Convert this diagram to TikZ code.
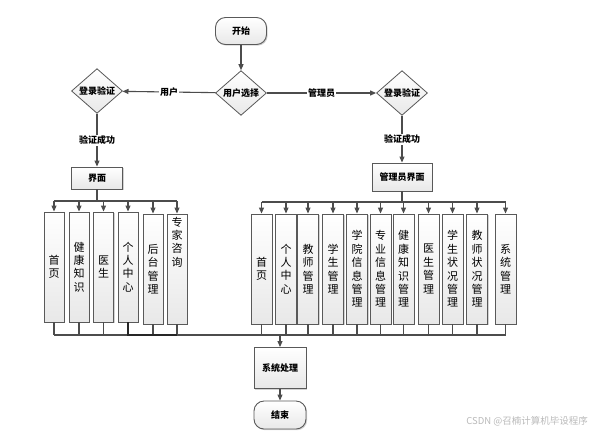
\documentclass[tikz,border=0pt]{standalone}
\usepackage{fontspec}
\newfontfamily\cjk{Noto Sans CJK SC}
\usetikzlibrary{shapes.geometric,arrows.meta,shadows}
\begin{document}
\begin{tikzpicture}[x=1pt,y=-1pt,
  ln/.style={draw=gray!60!black, line width=1.1pt},
  arr/.style={ln, -{Triangle[length=6pt,width=5pt]}},
  sh/.style={drop shadow={shadow xshift=1.2pt, shadow yshift=-1.2pt, opacity=0.35, fill=gray}},
  box/.style={draw=gray!70!black, line width=0.9pt, top color=white, bottom color=gray!18, sh},
  hbox/.style={box, inner sep=0pt, font=\cjk\bfseries\fontsize{9}{10}\selectfont},
  term/.style={hbox, rounded corners=10pt},
  dia/.style={diamond, draw=gray!70!black, line width=0.8pt, top color=white, bottom color=gray!18, inner sep=0pt, minimum width=51pt, minimum height=40pt, font=\cjk\bfseries\fontsize{9}{10}\selectfont},
  vfont/.style={align=center, font=\cjk\fontsize{11}{13.4}\selectfont},
  vbox/.style={box, minimum width=20pt, minimum height=110pt, inner sep=0pt, vfont},
  lab/.style={fill=white, inner sep=1pt, font=\cjk\bfseries\fontsize{9}{10}\selectfont}
]
\useasboundingbox (0,0) rectangle (591,432);

% top
\node[term, minimum width=51pt, minimum height=27pt] (start) at (241,31) {开始};
\node[dia] (sel) at (241,93) {用户选择};
\node[dia] (ldia) at (97,91) {登录验证};
\node[dia] (rdia) at (402,93) {登录验证};
\node[hbox, minimum width=51pt, minimum height=22pt] (ui) at (97,178) {界面};
\node[hbox, minimum width=60pt, minimum height=28pt] (aui) at (402,177) {管理员界面};

\draw[arr] (start) -- (sel);
\draw[arr] (sel) -- node[lab]{用户} (ldia);
\draw[arr] (sel) -- node[lab]{管理员} (rdia);
\draw[arr] (ldia) -- node[lab]{验证成功} (ui);
\draw[arr] (rdia) -- node[lab]{验证成功} (aui);

% left boxes
\node[vbox] (a1) at (54,267) {首\\页};
\node[vbox] (a2) at (79,267) {健\\康\\知\\识};
\node[vbox] (a3) at (103.5,267) {医\\生};
\node[vbox] (a4) at (128,267) {个\\人\\中\\心};
\node[vbox] (a5) at (153,269) {后\\台\\管\\理};
\node[vbox] (a6) at (177,269) {};
\node[vfont, anchor=north, inner sep=0pt] (a6t) at ([yshift=-3pt]a6.north) {专\\家\\咨\\询};

% right boxes
\node[vbox, minimum width=21pt] (r1) at (261.5,269) {首\\页};
\node[vbox, minimum width=21pt] (r2) at (286,269) {个\\人\\中\\心};
\node[vbox, minimum width=21pt] (r3) at (308,269) {教\\师\\管\\理};
\node[vbox, minimum width=21pt] (r4) at (333,269) {学\\生\\管\\理};
\node[vbox, minimum width=21pt] (r5) at (357,269) {学\\院\\信\\息\\管\\理};
\node[vbox, minimum width=21pt] (r6) at (380.5,269) {专\\业\\信\\息\\管\\理};
\node[vbox, minimum width=21pt] (r7) at (403.5,269) {健\\康\\知\\识\\管\\理};
\node[vbox, minimum width=21pt] (r8) at (428.5,269) {医\\生\\管\\理};
\node[vbox, minimum width=21pt] (r9) at (452.5,269) {学\\生\\状\\况\\管\\理};
\node[vbox, minimum width=21pt] (r10) at (477,269) {教\\师\\状\\况\\管\\理};
\node[vbox, minimum width=21pt] (r11) at (505.5,269) {系\\统\\管\\理};

% bottom
\node[hbox, minimum width=52pt, minimum height=41pt] (sys) at (280,368) {系统处理};
\node[term, minimum width=52pt, minimum height=28pt] (end) at (280,415) {结束};

\coordinate (busL) at (0,201);
\coordinate (busR) at (0,202);
\coordinate (busB) at (0,335);

% left distribution
\draw[ln] (ui.south) -- (ui.south |- busL);
\draw[ln] (a1.north |- busL) -- (a6.north |- busL);
\foreach \n in {a1,a2,a3,a4,a5,a6} \draw[arr] (\n.north |- busL) -- (\n.north);
% right distribution
\draw[ln] (aui.south) -- (aui.south |- busR);
\draw[ln] (r1.north |- busR) -- (r11.north |- busR);
\foreach \n in {r1,r2,r3,r4,r5,r6,r7,r8,r9,r10,r11} \draw[arr] (\n.north |- busR) -- (\n.north);

% collection
\foreach \n in {a1,a2,a3,a5,a6,r1,r2,r3,r4,r5,r6,r7,r8,r9,r10,r11} \draw[ln] (\n.south) -- (\n.south |- busB);
\draw[ln] (a1.south |- busB) -- (r11.south |- busB);
\draw[line width=1.1pt, draw=black!85] (a4.south) -- (a4.south |- busB) -- (a6.south |- busB);
\draw[arr] (sys.north |- busB) -- (sys.north);
\draw[arr] (sys) -- (end);

\node[font=\cjk\fontsize{9.5}{10}\selectfont, text=gray!55, anchor=east, inner sep=0pt] (wm) at (588,421) {CSDN @召楠计算机毕设程序};
\end{tikzpicture}
\end{document}
